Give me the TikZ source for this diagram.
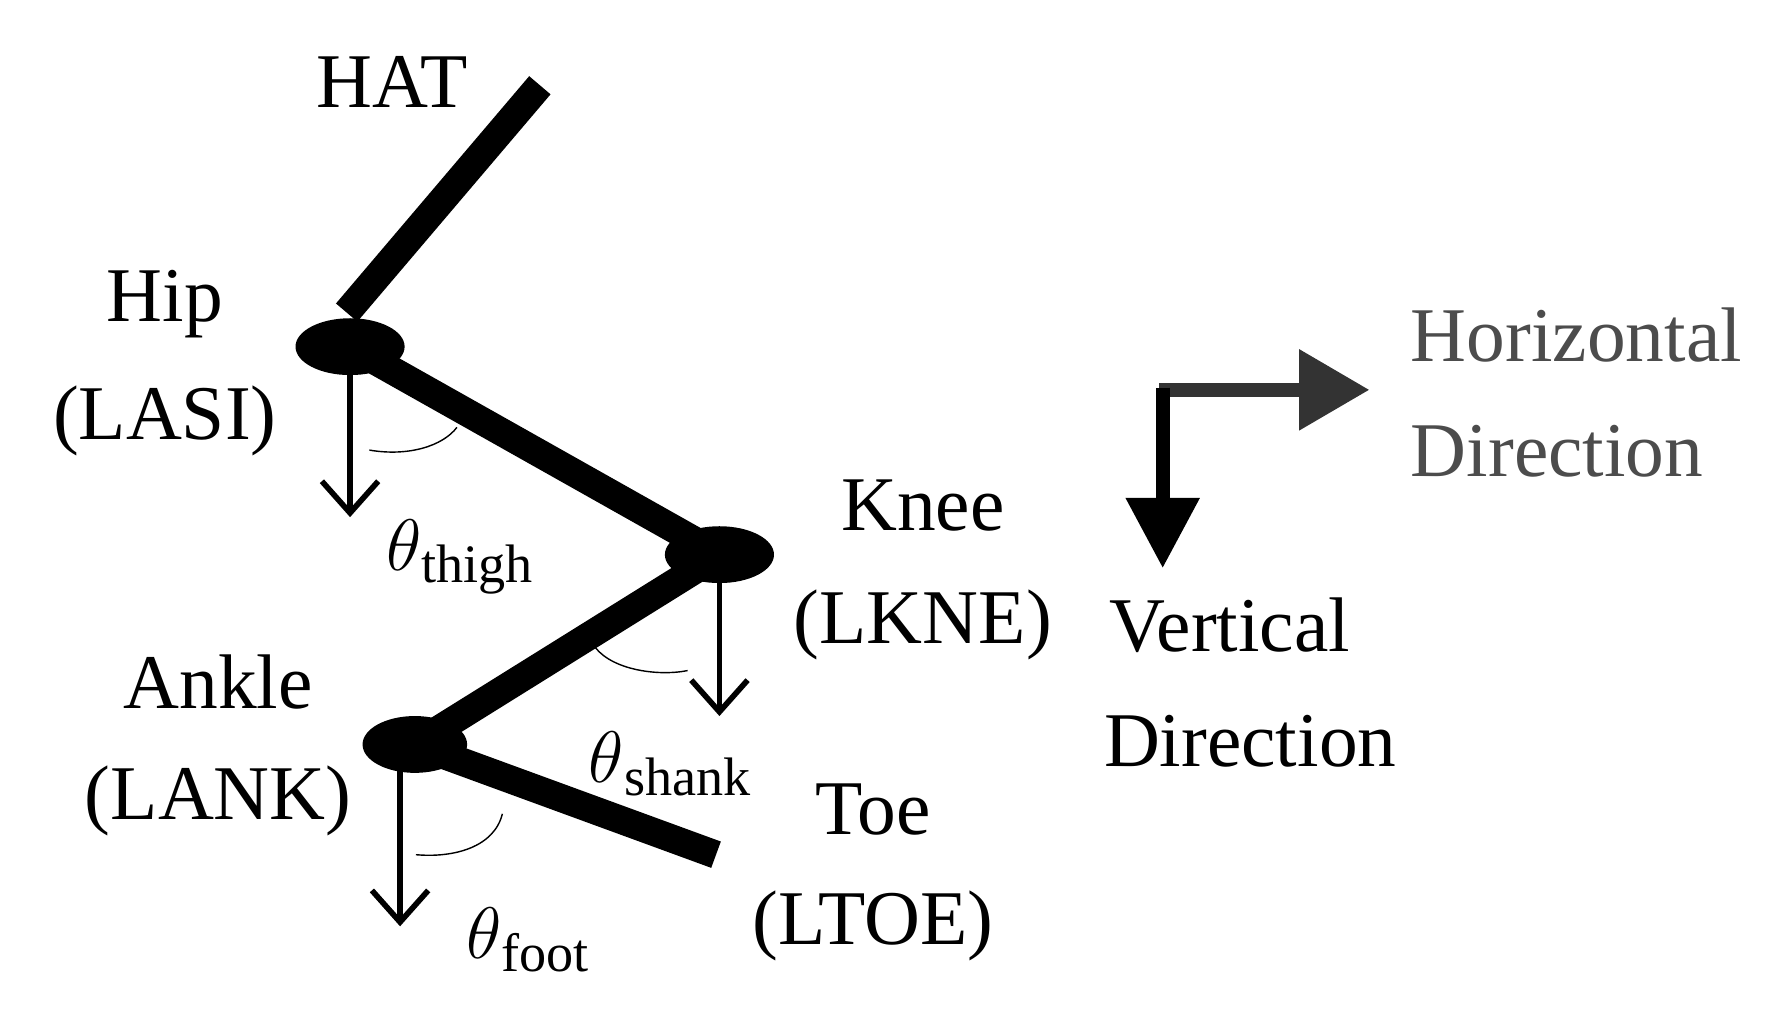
\documentclass[tikz,border=0pt]{standalone}
\usepackage{fontspec}
\setmainfont{Liberation Serif}
\usetikzlibrary{arrows.meta}
\begin{document}
\begin{tikzpicture}[x=0.01136cm,y=-0.01136cm,
  seg/.style={line width=0.28cm},
  joint/.style={fill=black,ellipse},
  vec/.style={line width=1.6pt,-{Straight Barb[length=9pt,width=16pt,line width=1.6pt]}},
  ang/.style={line width=0.4pt},
  lab/.style={font=\fontsize{22}{24}\selectfont},
  glab/.style={font=\fontsize{22}{24}\selectfont,text=black!70}]
\useasboundingbox (0,0) rectangle (1560,892);
\coordinate (hat) at (475,75);
\coordinate (hipT) at (305,275);
\coordinate (hipc) at (308,305);
\coordinate (kneec) at (633,488);
\coordinate (anklec) at (365,655);
\coordinate (toe) at (630,752);
\draw[seg] (hat) -- (hipT);
\draw[seg,line join=round] (hipc) -- (kneec) -- (anklec) -- (toe);
\fill (hipc) ellipse [x radius=48, y radius=25];
\fill (kneec) ellipse [x radius=48, y radius=25];
\fill (anklec) ellipse [x radius=46, y radius=25];
\node (hipa) at (308,455) {};
\node (kneea) at (633,630) {};
\node (anklea) at (352,815) {};
\draw[vec] (308,320) -- (hipa.center);
\draw[vec] (633,500) -- (kneea.center);
\draw[vec] (352,670) -- (anklea.center);
\draw[ang] (325,396) .. controls (360,402) and (390,392) .. (402,376);
\draw[ang] (524,570) .. controls (540,590) and (580,595) .. (605,590);
\draw[ang] (366,752) .. controls (400,755) and (435,745) .. (442,716);
\coordinate (corner) at (1023,343);
\draw[line width=4pt,black!80,-{Triangle[length=20pt,width=22pt]}] (1020,343) -- (1205,343);
\draw[line width=4pt,-{Triangle[length=20pt,width=20pt]}] (1023,341) -- (1023,500);
\node[lab] (tHAT) at (345,72) {HAT};
\node[lab] (tHip) at (145,268) {Hip};
\node[lab] (tLASI) at (145,370) {(LASI)};
\node[lab] (tth) at (405,490) {$\theta$\textsubscript{thigh}};
\node[lab] (tKnee) at (812,445) {Knee};
\node[lab] (tLKNE) at (812,550) {(LKNE)};
\node[lab] (tAnk) at (192,600) {Ankle};
\node[lab] (tLANK) at (192,705) {(LANK)};
\node[lab] (tsh) at (590,672) {$\theta$\textsubscript{shank}};
\node[lab] (tToe) at (768,712) {Toe};
\node[lab] (tLTOE) at (768,815) {(LTOE)};
\node[lab] (tfo) at (465,827) {$\theta$\textsubscript{foot}};
\node[lab] (tV) at (1082,550) {Vertical};
\node[lab] (tVD) at (1100,652) {Direction};
\node[glab] (tH) at (1387,295) {Horizontal};
\node[glab] (tHD) at (1370,397) {Direction};
\end{tikzpicture}
\end{document}
